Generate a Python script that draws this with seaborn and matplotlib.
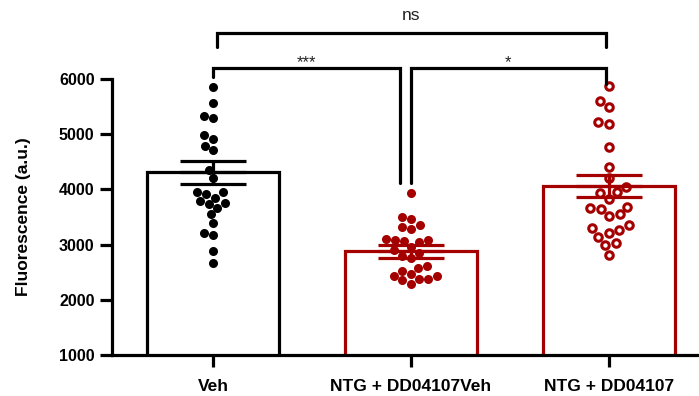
import numpy as np
import pandas as pd
import matplotlib
matplotlib.use("Agg")
import matplotlib.pyplot as plt
import seaborn as sns

# groups and individual readings (a.u.)
groups = ["Veh", "NTG + DD04107Veh", "NTG + DD04107"]
veh = [5850, 5560, 5290, 5330, 4990, 4920, 4790, 4710, 4360, 4210, 3950, 3910,
       3950, 3850, 3760, 3790, 3670, 3730, 3550, 3390, 3210, 3180, 2880, 2670]
ntg_veh = [3930, 3500, 3460, 3360, 3290, 3320, 3090, 3070, 3040, 3090, 3100, 2950,
           2900, 2850, 2800, 2760, 2580, 2530, 2620, 2470, 2440, 2380, 2290, 2360,
           2380, 2440]
ntg_dd = [5870, 5610, 5490, 5180, 5220, 4770, 4410, 4200, 4050, 3930, 3950, 3820,
          3690, 3650, 3670, 3520, 3550, 3300, 3210, 3270, 3360, 3030, 3140, 2990, 2810]
# bar heights and SEM as shown
means = [4310, 2880, 4065]
sems = [205, 120, 195]

# significance brackets: (x1, x2, y, left leg end, right leg end, label)
brackets = [(0, 0.945, 6200, 6040, 4120, "***"),
            (1.0, 1.985, 6200, 4120, 5910, "*"),
            (0.02, 1.985, 6830, 6580, 6580, "ns")]

red = "#A40000"
colors = ["black", red, red]

df = pd.DataFrame({
    "group": [groups[0]] * len(veh) + [groups[1]] * len(ntg_veh) + [groups[2]] * len(ntg_dd),
    "value": veh + ntg_veh + ntg_dd,
})

sns.set_style("ticks", {"axes.edgecolor": "black", "text.color": "black",
                        "xtick.color": "black", "ytick.color": "black",
                        "axes.labelcolor": "black"})
plt.rcParams["font.family"] = ["Liberation Sans", "DejaVu Sans"]

fig = plt.figure(figsize=(6.99, 3.96), dpi=100)
ax = fig.add_axes([0.1602, 0.1035, 0.8398, 0.697])

sns.barplot(x=groups, y=means, order=groups, width=0.667, ax=ax, zorder=1)
for p, c in zip(ax.patches, colors):
    p.set_facecolor("white")
    p.set_edgecolor(c)
    p.set_linewidth(2.3)

for i, g in enumerate(groups):
    sub = df[df.group == g]
    sns.swarmplot(data=sub, x="group", y="value", order=groups, ax=ax,
                  color=colors[i], size=6.5 if i < 2 else 5.4, zorder=3)
    coll = ax.collections[-1]
    if i == 2:
        coll.set_facecolor("white")
        coll.set_edgecolor(red)
        coll.set_linewidth(2.2)
    else:
        coll.set_edgecolor(colors[i])
        coll.set_linewidth(0)

for i in range(3):
    ax.errorbar(i, means[i], yerr=sems[i], fmt="none", ecolor=colors[i],
                elinewidth=2.3, capsize=24, capthick=2.3, zorder=5)
    ax.hlines(means[i], i - 0.167, i + 0.167, color=colors[i], lw=2.3, zorder=5)

for x1, x2, y, l1, l2, lab in brackets:
    ax.plot([x1, x1, x2, x2], [l1, y, y, l2], color="black", lw=2.3,
            clip_on=False, solid_joinstyle="miter", zorder=6)
    if lab == "ns":
        ax.text((x1 + x2) / 2, 7070, lab, ha="center", va="baseline",
                fontsize=12.5, color="#222222")
    else:
        ax.text((x1 + x2) / 2, y + 20, lab, ha="center", va="baseline",
                fontsize=12, color="#222222")

ax.set_xlim(-0.51, 2.455)
ax.set_ylim(1000, 6000)
ax.set_yticks(np.arange(1000, 6001, 1000))
ax.set_xlabel("")
ax.set_ylabel("Fluorescence (a.u.)", fontsize=12.5, fontweight="bold", labelpad=20)
ax.tick_params(axis="both", width=2.3, length=8.5)
ax.tick_params(axis="y", pad=4, labelsize=11.5)
ax.tick_params(axis="x", pad=9, labelsize=12.5)
for lab in ax.get_xticklabels() + ax.get_yticklabels():
    lab.set_fontweight("bold")
for s in ["top", "right"]:
    ax.spines[s].set_visible(False)
for s in ["left", "bottom"]:
    ax.spines[s].set_linewidth(2.3)

fig.savefig("out.png", dpi=100)
